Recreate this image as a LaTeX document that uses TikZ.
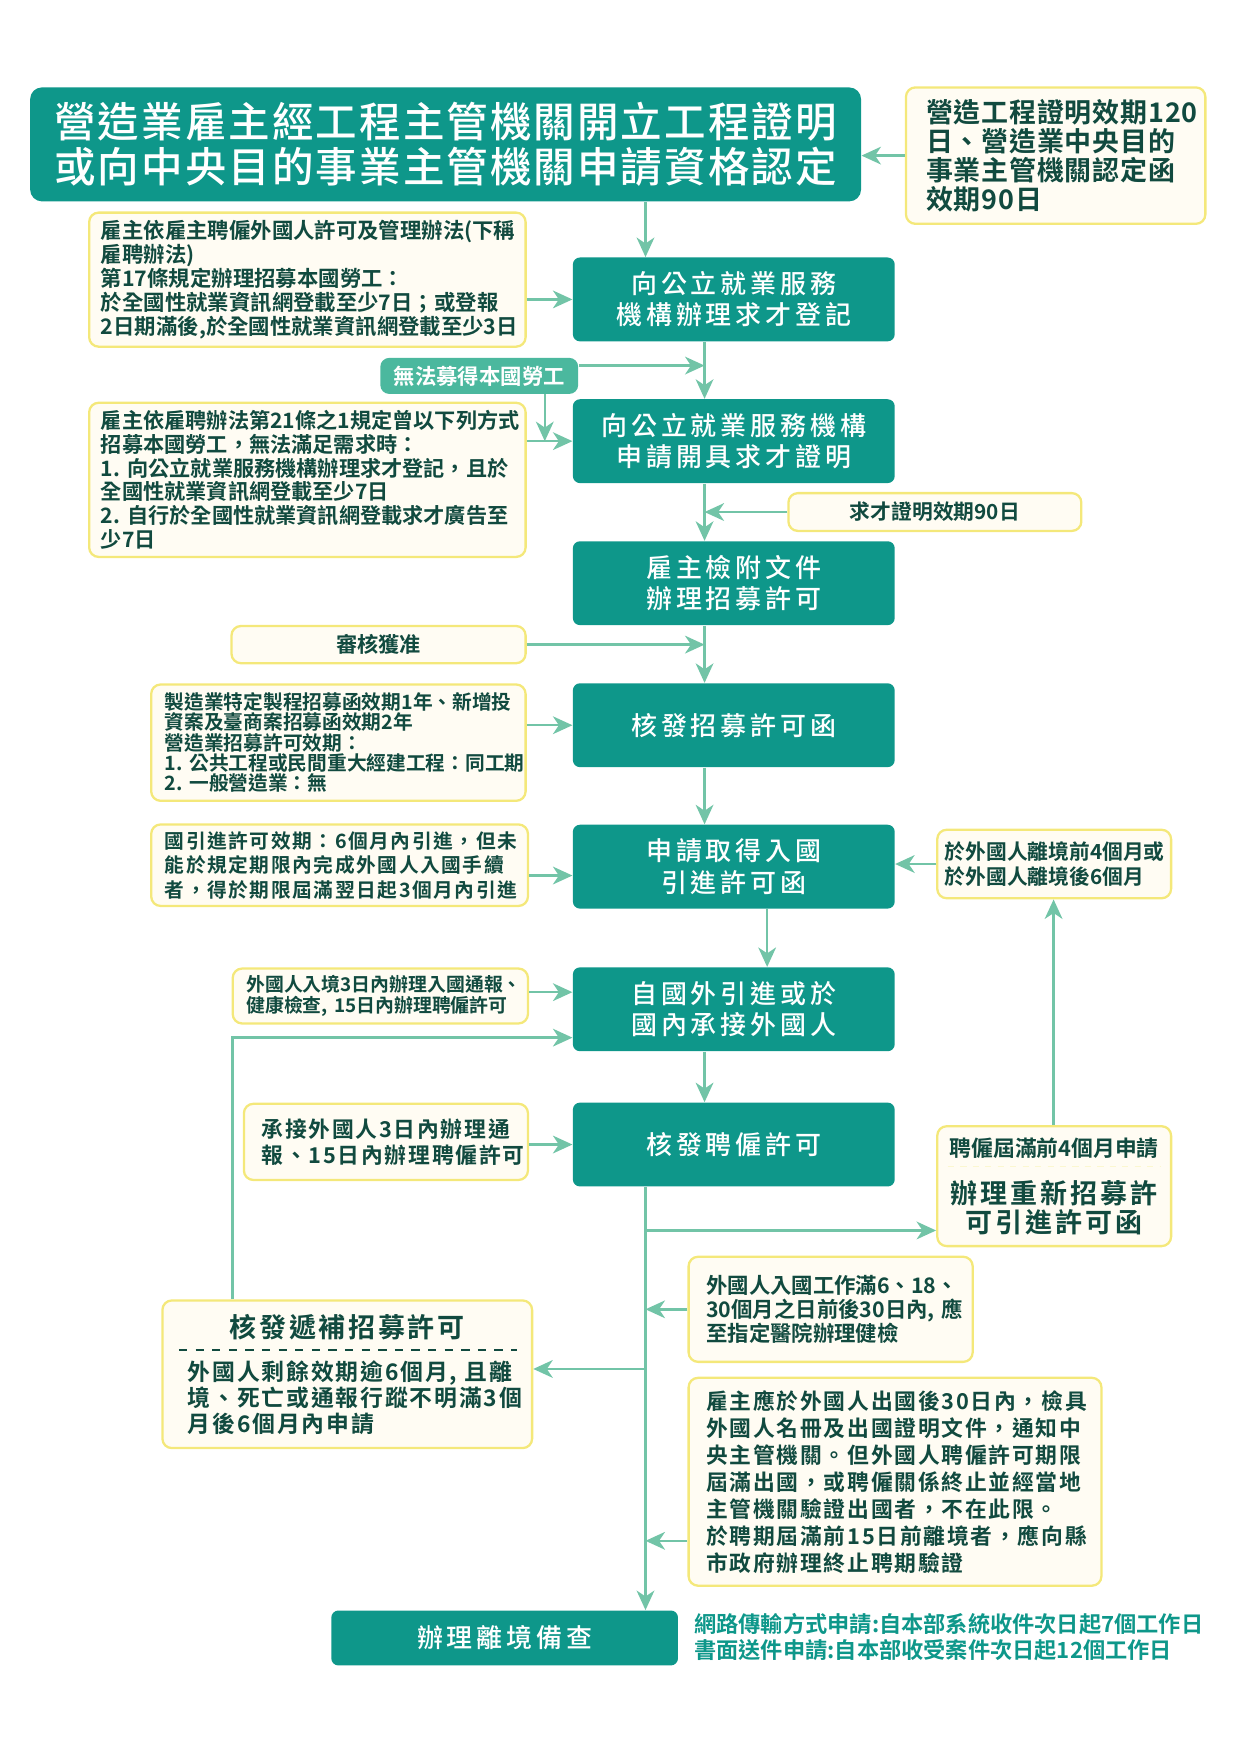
\documentclass[tikz,border=0pt]{standalone}
\usepackage{fontspec}
\setmainfont{Noto Sans CJK TC}[BoldFont={Noto Sans CJK TC Bold}]
\newfontfamily\cajafont{Noto Sans CJK TC Medium}[LetterSpace=15]
\newfontfamily\titulofont{Noto Sans CJK TC Medium}[LetterSpace=5]
\usetikzlibrary{arrows.meta}

\definecolor{verdeazul}{RGB}{14,151,138}
\definecolor{verdeclaro}{RGB}{75,184,158}
\definecolor{verdeflecha}{RGB}{114,196,167}
\definecolor{notafondo}{RGB}{255,252,243}
\definecolor{notaborde}{RGB}{244,232,122}
\definecolor{notatexto}{RGB}{17,74,63}

\begin{document}
\begin{tikzpicture}[
    caja/.style={fill=verdeazul, text=white, rounded corners=0.12cm, minimum width=5.45cm, minimum height=1.42cm, align=center, inner sep=0pt, font=\cajafont\fontsize{12.5}{15}\selectfont},
    nota/.style={draw=notaborde, fill=notafondo, line width=1.1pt, rounded corners=0.16cm, text=notatexto, align=left, inner xsep=0.2cm, inner ysep=0.08cm},
    etiqueta/.style={fill=verdeclaro, text=white, rounded corners=0.15cm, inner sep=0pt, font=\bfseries\fontsize{10.3}{12}\selectfont},
    linea/.style={draw=verdeflecha, line width=1.2pt},
    flecha/.style={linea, -{Stealth[length=3.3mm, width=3mm, inset=1mm]}}
]
    \useasboundingbox (0,0) rectangle (21,-29.7);

    % --- EJES VERTICALES ---
    \coordinate (ejeA) at (10.93,0);
    \coordinate (ejeB) at (11.93,0);
    \coordinate (ejeC) at (12.99,0);
    \coordinate (ejeD) at (17.84,0);
    \coordinate (ejeL) at (3.94,0);

    % --- TITULO Y VIGENCIA ---
    \node[caja, minimum width=14.07cm, minimum height=1.93cm, rounded corners=0.2cm, font=\titulofont\fontsize{20}{21.5}\selectfont] (titulo) at (7.545,-2.445) {營造業雇主經工程主管機關開立工程證明\\或向中央目的事業主管機關申請資格認定};
    \node[nota, text width=4.39cm, inner xsep=0.34cm, minimum height=2.31cm, font=\bfseries\fontsize{13}{14}\selectfont\addfontfeature{LetterSpace=3}] (vigencia) at (17.875,-2.635) {營造工程證明效期120\\日、營造業中央目的\\事業主管機關認定函\\效期90日};
    \draw[flecha] (vigencia.west) -- (vigencia.west -| titulo.east);

    % --- REGISTRO DE VACANTE ---
    \node[caja] (registro) at (12.425,-5.07) {向公立就業服務\\機構辦理求才登記};
    \node[nota, text width=6.99cm, minimum height=2.27cm, font=\bfseries\fontsize{10.3}{11.6}\selectfont] (reglamento) at (5.205,-4.735) {雇主依雇主聘僱外國人許可及管理辦法(下稱\\雇聘辦法)\\第17條規定辦理招募本國勞工：\\於全國性就業資訊網登載至少7日；或登報\\2日期滿後,於全國性就業資訊網登載至少3日};
    \draw[flecha] (titulo.south -| ejeA) -- (registro.north -| ejeA);
    \draw[flecha] (reglamento.east |- registro.west) -- (registro.west);

    % --- CERTIFICADO DE VACANTE ---
    \node[etiqueta, minimum width=3.35cm, minimum height=0.61cm] (sinmano) at (8.115,-6.365) {無法募得本國勞工};
    \node[caja] (certificado) at (12.425,-7.47) {向公立就業服務機構\\申請開具求才證明};
    \node[nota, text width=6.99cm, minimum height=2.61cm, font=\bfseries\fontsize{10.2}{11.5}\selectfont] (articulo) at (5.205,-8.125) {雇主依雇聘辦法第21條之1規定曾以下列方式\\招募本國勞工，無法滿足需求時：\\1.~向公立就業服務機構辦理求才登記，且於\\全國性就業資訊網登載至少7日\\2.~自行於全國性就業資訊網登載求才廣告至\\少7日};
    \draw[flecha] (registro.south -| ejeB) -- (certificado.north -| ejeB);
    \draw[flecha] ([yshift=0.175cm]sinmano.east) -- ([yshift=0.175cm]sinmano.east -| ejeB);
    \draw[flecha] ([xshift=1.11cm]sinmano.south) -- ([xshift=1.11cm]sinmano.south |- certificado.west);
    \draw[flecha] (articulo.east |- certificado.west) -- (certificado.west);

    % --- SOLICITUD DE RECLUTAMIENTO ---
    \node[nota, text width=4.56cm, minimum height=0.64cm, align=center, font=\bfseries\fontsize{10}{12}\selectfont] (plazocert) at (15.83,-8.67) {求才證明效期90日};
    \node[caja] (documentos) at (12.425,-9.875) {雇主檢附文件\\辦理招募許可};
    \draw[flecha] (certificado.south -| ejeB) -- (documentos.north -| ejeB);
    \draw[flecha] (plazocert.west) -- (plazocert.west -| ejeB);

    % --- CARTA DE PERMISO ---
    \node[nota, text width=4.58cm, minimum height=0.63cm, align=center, font=\bfseries\fontsize{10.2}{12}\selectfont] (aprobado) at (6.41,-10.915) {審核獲准};
    \node[caja] (permiso) at (12.425,-12.28) {核發招募許可函};
    \node[nota, text width=5.88cm, inner xsep=0.23cm, minimum height=1.97cm, font=\bfseries\fontsize{9.5}{9.8}\selectfont] (validez) at (5.73,-12.575) {製造業特定製程招募函效期1年、新增投\\資案及臺商案招募函效期2年\\營造業招募許可效期：\\1.~公共工程或民間重大經建工程：同工期\\2.~一般營造業：無};
    \draw[flecha] (documentos.south -| ejeB) -- (permiso.north -| ejeB);
    \draw[flecha] (aprobado.east) -- (aprobado.east -| ejeB);
    \draw[flecha] (validez.east |- permiso.west) -- (permiso.west);

    % --- PERMISO DE INGRESO ---
    \node[caja] (ingreso) at (12.425,-14.675) {申請取得入國\\引進許可函};
    \node[nota, text width=5.92cm, inner xsep=0.23cm, minimum height=1.38cm, font=\bfseries\fontsize{9.5}{11.8}\selectfont\addfontfeature{LetterSpace=8}] (entrada) at (5.75,-14.65) {國引進許可效期：6個月內引進，但未\\能於規定期限內完成外國人入國手續\\者，得於期限屆滿翌日起3個月內引進};
    \node[nota, text width=3.70cm, inner xsep=0.13cm, minimum height=1.16cm, font=\bfseries\fontsize{10}{12.4}\selectfont] (salida) at (17.85,-14.63) {於外國人離境前4個月或\\於外國人離境後6個月};
    \draw[flecha] (permiso.south -| ejeB) -- (ingreso.north -| ejeB);
    \draw[flecha] ([yshift=-0.15cm]ingreso.west -| entrada.east) -- ([yshift=-0.15cm]ingreso.west);
    \draw[flecha] (salida.west) -- (salida.west -| ingreso.east);

    % --- INTRODUCCION O TRASPASO ---
    \node[caja] (traspaso) at (12.425,-17.09) {自國外引進或於\\國內承接外國人};
    \node[nota, text width=4.54cm, inner xsep=0.23cm, minimum height=0.93cm, font=\bfseries\fontsize{9.1}{10.2}\selectfont] (aviso) at (6.44,-16.865) {外國人入境3日內辦理入國通報、\\健康檢查,~15日內辦理聘僱許可};
    \draw[flecha] (ingreso.south -| ejeC) -- (traspaso.north -| ejeC);
    \draw[flecha] ([yshift=0.29cm]traspaso.west -| aviso.east) -- ([yshift=0.29cm]traspaso.west);

    % --- PERMISO DE EMPLEO ---
    \node[caja] (empleo) at (12.425,-19.38) {核發聘僱許可};
    \node[nota, text width=4.21cm, inner xsep=0.3cm, minimum height=1.29cm, font=\bfseries\fontsize{10.5}{12.4}\selectfont\addfontfeature{LetterSpace=8}] (asumir) at (6.535,-19.335) {承接外國人3日內辦理通\\報、15日內辦理聘僱許可};
    \draw[flecha] (traspaso.south -| ejeB) -- (empleo.north -| ejeB);
    \draw[flecha] (asumir.east |- empleo.west) -- (empleo.west);

    % Renovacion (caja con dos partes)
    \node[nota, minimum width=3.96cm, minimum height=2.03cm] (renueva) at (17.85,-20.085) {};
    \node[text=notatexto, font=\bfseries\fontsize{10.5}{12}\selectfont] (renuevaT) at (17.85,-19.45) {聘僱屆滿前4個月申請};
    \draw[draw=notaborde!35, line width=0.8pt, dash pattern=on 3pt off 3pt] (16.05,-19.75) -- (19.65,-19.75);
    \node[text=notatexto, align=center, font=\bfseries\fontsize{13}{14}\selectfont\addfontfeature{LetterSpace=11}] (renuevaB) at (17.85,-20.45) {辦理重新招募許\\可引進許可函};
    \draw[flecha] (renueva.north -| ejeD) -- (salida.south -| ejeD);

    % --- SALIDA DEL TRABAJADOR ---
    \node[caja, minimum width=5.87cm, minimum height=0.93cm] (archivo) at (8.545,-27.735) {辦理離境備查};
    \node[nota, text width=4.21cm, inner xsep=0.3cm, minimum height=1.78cm, font=\bfseries\fontsize{10.3}{11.6}\selectfont] (salud) at (14.065,-22.17) {外國人入國工作滿6、18、\\30個月之日前後30日內,~應\\至指定醫院辦理健檢};
    \node[nota, text width=6.39cm, inner xsep=0.3cm, minimum height=3.52cm, font=\bfseries\fontsize{10.5}{13}\selectfont\addfontfeature{LetterSpace=8}] (partida) at (15.155,-25.09) {雇主應於外國人出國後30日內，檢具\\外國人名冊及出國證明文件，通知中\\央主管機關。但外國人聘僱許可期限\\屆滿出國，或聘僱關係終止並經當地\\主管機關驗證出國者，不在此限。\\於聘期屆滿前15日前離境者，應向縣\\市政府辦理終止聘期驗證};
    \draw[flecha] (empleo.south -| ejeA) -- (archivo.north -| ejeA);
    \draw[flecha] ([yshift=-0.75cm]renueva.west -| ejeA) -- ([yshift=-0.75cm]renueva.west);
    \draw[flecha] (salud.west) -- (salud.west -| ejeA);
    \draw[flecha] ([yshift=-1cm]partida.west) -- ([yshift=-1cm]partida.west -| ejeA);

    % Reemplazo (caja con dos partes)
    \node[nota, minimum width=6.26cm, minimum height=2.5cm] (reemplazo) at (5.88,-23.27) {};
    \node[text=notatexto, font=\bfseries\fontsize{13}{14}\selectfont\addfontfeature{LetterSpace=10}] (reemplazoT) at (5.88,-22.48) {核發遞補招募許可};
    \draw[draw=notatexto, line width=1pt, dash pattern=on 4pt off 4pt] (3.03,-22.86) -- (8.75,-22.86);
    \node[text=notatexto, text width=5.5cm, align=left, inner sep=0pt, font=\bfseries\fontsize{11}{12.4}\selectfont\addfontfeature{LetterSpace=8}] (reemplazoB) at (5.93,-23.67) {外國人剩餘效期逾6個月,~且離\\境、死亡或通報行蹤不明滿3個\\月後6個月內申請};
    \draw[flecha] ([yshift=0.09cm]reemplazo.east -| ejeA) -- ([yshift=0.09cm]reemplazo.east);
    \draw[flecha] (reemplazo.north -| ejeL) |- ([yshift=-0.48cm]traspaso.west);

    % Plazos de tramite
    \node[anchor=west, align=left, inner sep=0pt, text=verdeazul, font=\bfseries\fontsize{10.7}{12.9}\selectfont] (plazos) at (11.75,-27.72) {網路傳輸方式申請:自本部系統收件次日起7個工作日\\書面送件申請:自本部收受案件次日起12個工作日};
\end{tikzpicture}
\end{document}
